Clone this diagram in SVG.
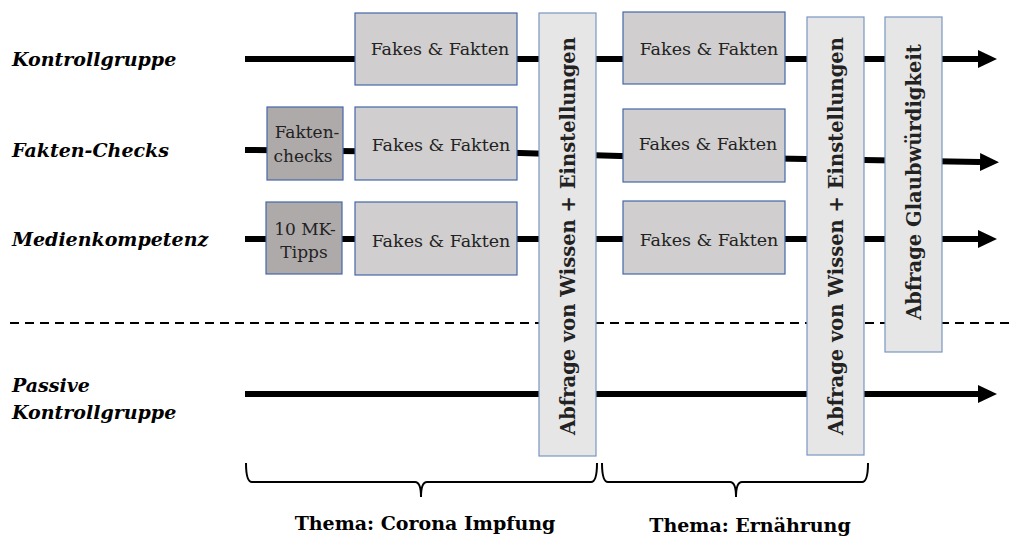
<svg xmlns="http://www.w3.org/2000/svg" width="1014" height="539" viewBox="0 0 1014 539">
<defs>
<marker id="ah" markerUnits="userSpaceOnUse" markerWidth="20" markerHeight="18" refX="0" refY="9" orient="auto">
<path d="M0,0 L19,9 L0,18 Z" fill="#000"/>
</marker>
<style>
.lbl{font-family:"DejaVu Serif","Liberation Serif",serif;font-weight:bold;font-style:italic;font-size:19px;fill:#000}
.box{fill:#d0cece;stroke:#4468a8;stroke-width:1.2}
.dark{fill:#aeaaaa;stroke:#4468a8;stroke-width:1.2}
.tall{fill:#e7e6e6;stroke:#7b96c4;stroke-width:1.2}
.bt{font-family:"DejaVu Serif","Liberation Serif",serif;font-size:17.5px;fill:#222;text-anchor:middle}
.st{font-family:"DejaVu Serif","Liberation Serif",serif;font-size:17px;fill:#222;text-anchor:middle}
.vt{font-family:"DejaVu Serif","Liberation Serif",serif;font-weight:bold;font-size:19.5px;fill:#222;text-anchor:middle}
.line{stroke:#000;stroke-width:6;fill:none}
.brace{stroke:#000;stroke-width:2;fill:none}
.th{font-family:"DejaVu Serif","Liberation Serif",serif;font-weight:bold;font-size:19px;fill:#000;text-anchor:middle}
</style>
</defs>
<rect width="1014" height="539" fill="#fff"/>

<g id="labels">
<text class="lbl" x="12" y="66">Kontrollgruppe</text>
<text class="lbl" x="12" y="157">Fakten-Checks</text>
<text class="lbl" x="12" y="246">Medienkompetenz</text>
<text class="lbl" x="12" y="392">Passive</text>
<text class="lbl" x="12" y="419">Kontrollgruppe</text>
</g>

<g id="connectors">
<line class="line" x1="245" y1="59" x2="978" y2="59" marker-end="url(#ah)"/>
<polyline class="line" points="245,150 520,153 620,156 980,162" marker-end="url(#ah)"/>
<line class="line" x1="245" y1="239" x2="978" y2="239" marker-end="url(#ah)"/>
<line class="line" x1="245" y1="394" x2="978" y2="394" marker-end="url(#ah)"/>
<line x1="10" y1="323" x2="1014" y2="323" stroke="#000" stroke-width="1.8" stroke-dasharray="9,6"/>
</g>

<g id="n_kg_ff1"><rect class="box" x="355" y="13" width="162" height="72"/><text class="bt" x="440" y="55">Fakes &amp; Fakten</text></g>
<g id="n_fc_checks"><rect class="dark" x="267" y="107" width="76" height="73"/><text class="st" x="307" y="138">Fakten-</text><text class="st" x="303" y="162">checks</text></g>
<g id="n_fc_ff1"><rect class="box" x="355" y="107" width="162" height="73"/><text class="bt" x="441" y="151">Fakes &amp; Fakten</text></g>
<g id="n_mk_tipps"><rect class="dark" x="266" y="202" width="76" height="72"/><text class="st" x="305" y="235">10 MK-</text><text class="st" x="304" y="258">Tipps</text></g>
<g id="n_mk_ff1"><rect class="box" x="355" y="202" width="162" height="73"/><text class="bt" x="441" y="247">Fakes &amp; Fakten</text></g>

<g id="n_abfrage1"><rect class="tall" x="539" y="13" width="57" height="443"/><text class="vt" transform="translate(575,236) rotate(-90)">Abfrage von Wissen + Einstellungen</text></g>

<g id="n_kg_ff2"><rect class="box" x="623" y="12" width="162" height="72"/><text class="bt" x="709" y="55">Fakes &amp; Fakten</text></g>
<g id="n_fc_ff2"><rect class="box" x="623" y="109" width="162" height="73"/><text class="bt" x="708" y="150">Fakes &amp; Fakten</text></g>
<g id="n_mk_ff2"><rect class="box" x="623" y="201" width="162" height="73"/><text class="bt" x="709" y="246">Fakes &amp; Fakten</text></g>

<g id="n_abfrage2"><rect class="tall" x="807" y="17" width="57" height="438"/><text class="vt" transform="translate(843,236) rotate(-90)">Abfrage von Wissen + Einstellungen</text></g>

<g id="n_glaub"><rect class="tall" x="885" y="17" width="57" height="335"/><text class="vt" transform="translate(921,182) rotate(-90)">Abfrage Glaubwürdigkeit</text></g>

<g id="braces">
<path class="brace" d="M246,463 Q246,482 252,482 L415,482 Q421,482 421,497 Q421,482 427,482 L591,482 Q597,482 597,463"/>
<path class="brace" d="M602,463 Q602,482 608,482 L730,482 Q736,482 736,497 Q736,482 742,482 L862,482 Q868,482 868,463"/>
<text class="th" x="425" y="530">Thema: Corona Impfung</text>
<text class="th" x="750" y="532">Thema: Ernährung</text>
</g>
</svg>
